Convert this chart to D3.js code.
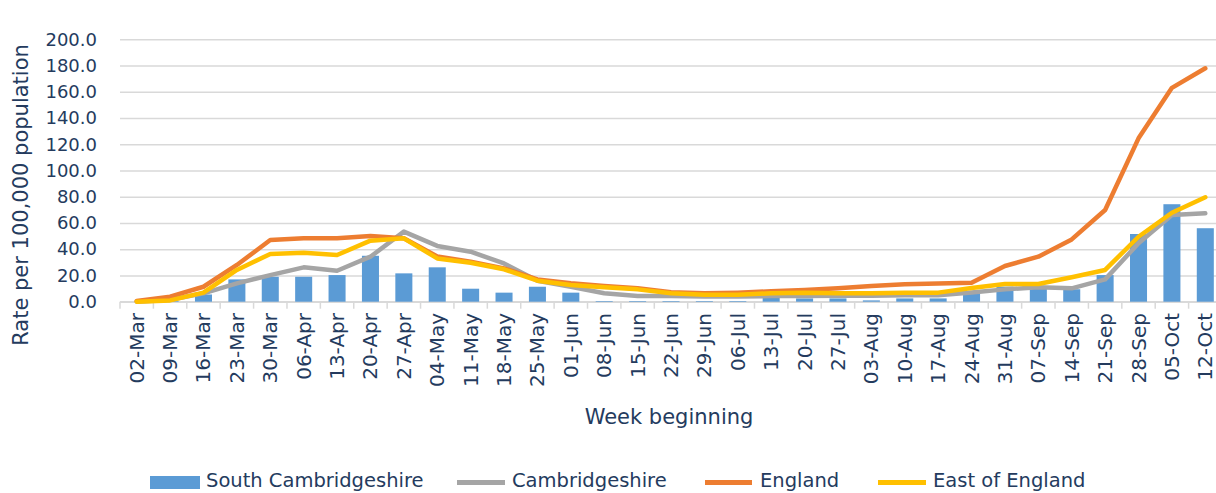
<!DOCTYPE html>
<html>
<head>
<meta charset="utf-8">
<script src="https://cdn.jsdelivr.net/npm/d3@7"></script>
<style>
  html, body { margin: 0; padding: 0; background: #fff; overflow: hidden; }
  text { font-family: "DejaVu Sans", sans-serif; fill: #243b5e; }
</style>
</head>
<body>
<script>
const weeks = ["02-Mar","09-Mar","16-Mar","23-Mar","30-Mar","06-Apr","13-Apr","20-Apr","27-Apr",
  "04-May","11-May","18-May","25-May","01-Jun","08-Jun","15-Jun","22-Jun","29-Jun",
  "06-Jul","13-Jul","20-Jul","27-Jul","03-Aug","10-Aug","17-Aug","24-Aug","31-Aug",
  "07-Sep","14-Sep","21-Sep","28-Sep","05-Oct","12-Oct"];

const southCambridgeshire = [0, 0.5, 5.5, 17, 19, 19, 20.3, 35, 21.6, 26.2, 9.9, 6.9, 11.4, 6.9,
  0.5, 0.5, 0.5, 0.5, 0.5, 3, 2.5, 2.5, 1, 2.5, 2.5, 6.5, 11.5, 12, 9.5, 20.3, 51.6, 74.3, 56];

const cambridgeshire = [0, 1.5, 6.4, 14, 20.3, 26.2, 23.6, 34.3, 53.4, 42.5, 38.1, 29.2, 16, 11.4,
  6.4, 4.3, 4.3, 4, 4, 4.3, 4.3, 4.5, 4.5, 5, 5, 7, 9.4, 11, 10.2, 17, 44.5, 66, 67.4];

const england = [0.5, 3.8, 11.4, 28, 47, 48.3, 48.3, 50, 48.3, 34.5, 30.5, 25.4, 17, 14,
  12, 10.2, 7.2, 6.4, 6.9, 7.9, 8.9, 10.2, 12, 13.3, 13.8, 14.5, 27.2, 34.3, 47.5, 69.9, 124.5, 163, 177.9];

const eastOfEngland = [0, 1, 6.9, 24.2, 36.4, 37.4, 35.6, 46.5, 48.3, 33, 29.7, 24.7, 16, 12.7,
  11, 9.4, 6.4, 5.3, 5.3, 6.4, 6.9, 6.4, 6.4, 6.9, 6.9, 10.5, 13.5, 13.5, 18.6, 24.2, 49.5, 67.8, 79.6];

const yTicks = [0, 20, 40, 60, 80, 100, 120, 140, 160, 180, 200];

const seriesNames = ["South Cambridgeshire", "Cambridgeshire", "England", "East of England"];
const colors = { bar: "#5B9BD5", cambs: "#A5A5A5", england: "#ED7D31", east: "#FFC000" };

const W = 1216, H = 493;
const plotLeft = 120, plotRight = 1222, plotTop = 39.3, plotBottom = 301.7;

const svg = d3.select("body").append("svg").attr("width", W).attr("height", H);

const x = d3.scaleBand().domain(weeks).range([plotLeft, plotRight]).paddingInner(0.49).paddingOuter(0.245);
const y = d3.scaleLinear().domain([0, 200]).range([plotBottom, plotTop]);

// gridlines + y tick labels
const yAxis = d3.axisLeft(y).tickValues(yTicks).tickSize(-(W - plotLeft)).tickPadding(23)
  .tickFormat(d3.format(".1f"));
const gy = svg.append("g").attr("transform", `translate(${plotLeft},0)`).call(yAxis);
gy.select(".domain").remove();
gy.selectAll("line").attr("stroke", "#D9D9D9").attr("stroke-width", 1.5);
gy.selectAll("text").attr("font-size", 18).attr("fill", "#243b5e").attr("font-family", "DejaVu Sans");

// x axis line & boundary ticks
const gap = (x.step() - x.bandwidth()) / 2;
const bounds = weeks.map(d => x(d) - gap).concat([x(weeks[weeks.length - 1]) + x.bandwidth() + gap]);
svg.append("g").selectAll("line").data(bounds).join("line")
  .attr("x1", d => d).attr("x2", d => d).attr("y1", plotBottom).attr("y2", plotBottom + 7)
  .attr("stroke", "#D9D9D9").attr("stroke-width", 1.5);
svg.append("line").attr("x1", plotLeft).attr("x2", W).attr("y1", plotBottom).attr("y2", plotBottom)
  .attr("stroke", "#D9D9D9").attr("stroke-width", 1.5);

// bars
svg.append("g").selectAll("rect").data(weeks).join("rect")
  .attr("x", d => x(d)).attr("width", x.bandwidth())
  .attr("y", (d, i) => y(southCambridgeshire[i]))
  .attr("height", (d, i) => y(0) - y(southCambridgeshire[i]))
  .attr("fill", colors.bar);

// lines
const line = d3.line().x((d, i) => x(weeks[i]) + x.bandwidth() / 2).y(d => y(d));
[[cambridgeshire, colors.cambs], [england, colors.england], [eastOfEngland, colors.east]].forEach(([data, c]) => {
  svg.append("path").datum(data).attr("d", line).attr("fill", "none").attr("stroke", c)
    .attr("stroke-width", 4.5).attr("stroke-linejoin", "round").attr("stroke-linecap", "round");
});

// x tick labels
svg.append("g").selectAll("text").data(weeks).join("text")
  .attr("transform", d => `translate(${x(d) + x.bandwidth() / 2},313) rotate(-90)`)
  .attr("text-anchor", "end").attr("dy", "0.35em").attr("font-size", 20)
  .text(d => d);

// axis titles
svg.append("text").attr("transform", "translate(28,195) rotate(-90)")
  .attr("text-anchor", "middle").attr("font-size", 21).text("Rate per 100,000 population");
svg.append("text").attr("x", 669).attr("y", 424).attr("text-anchor", "middle")
  .attr("font-size", 21).text("Week beginning");

// legend
const legend = svg.append("g").attr("font-size", 19.5);
const lg = [
  { name: seriesNames[0], type: "rect", c: colors.bar, x0: 150, x1: 200, tx: 206 },
  { name: seriesNames[1], type: "line", c: colors.cambs, x0: 457, x1: 505, tx: 512 },
  { name: seriesNames[2], type: "line", c: colors.england, x0: 705, x1: 752, tx: 760 },
  { name: seriesNames[3], type: "line", c: colors.east, x0: 878, x1: 926, tx: 933 }
];
lg.forEach(d => {
  if (d.type === "rect") {
    legend.append("rect").attr("x", d.x0).attr("y", 476).attr("width", d.x1 - d.x0).attr("height", 13).attr("fill", d.c);
  } else {
    legend.append("line").attr("x1", d.x0).attr("x2", d.x1).attr("y1", 482.5).attr("y2", 482.5)
      .attr("stroke", d.c).attr("stroke-width", 5);
  }
  legend.append("text").attr("x", d.tx).attr("y", 487).text(d.name);
});
</script>
</body>
</html>
